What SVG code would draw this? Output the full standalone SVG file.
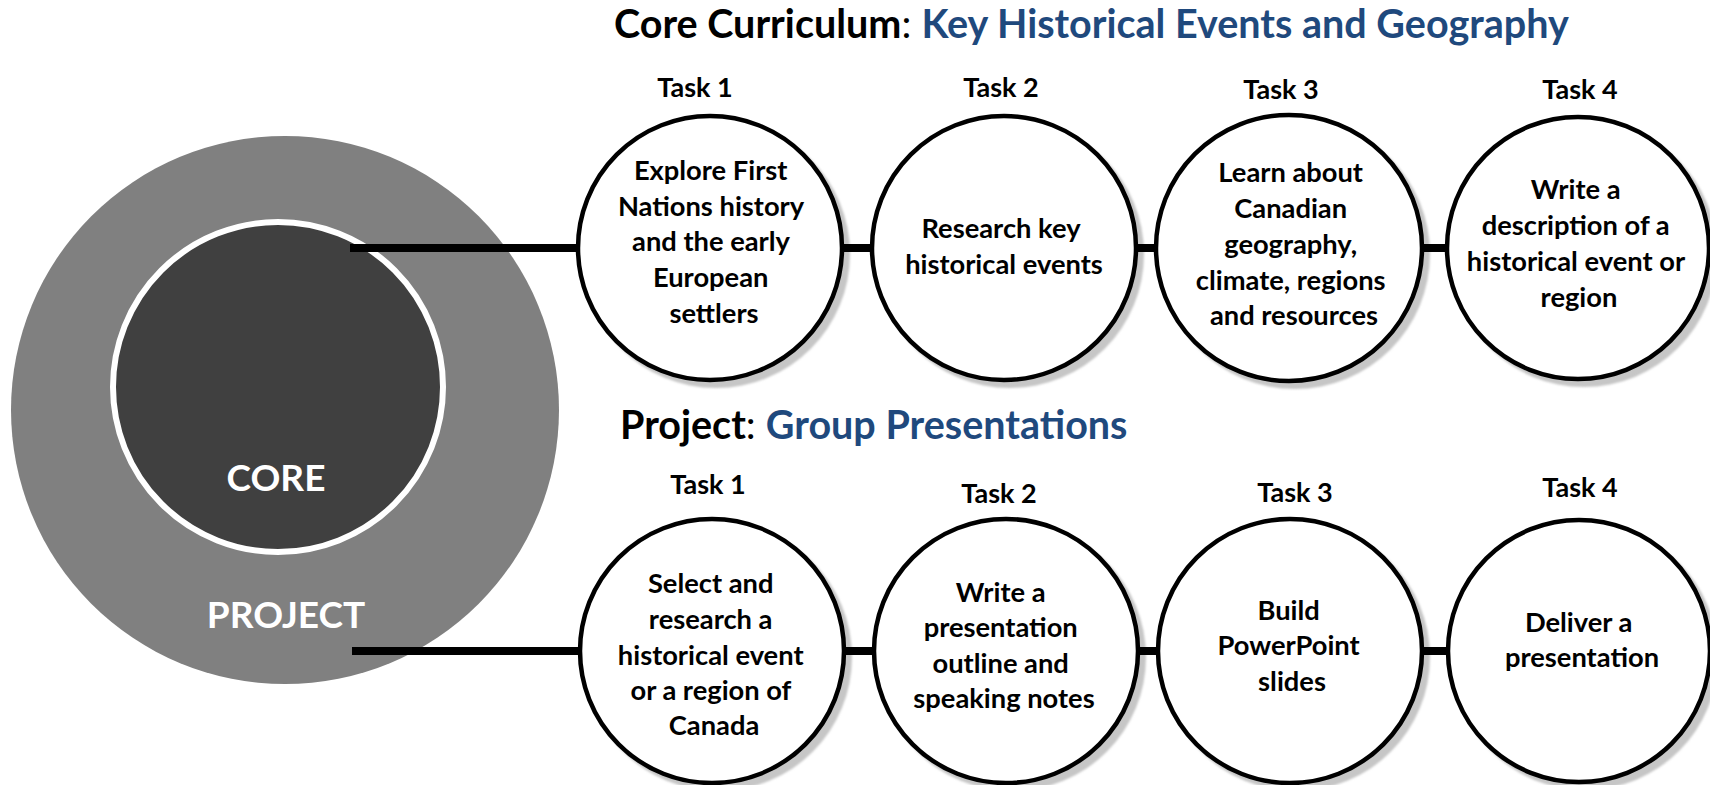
<svg xmlns="http://www.w3.org/2000/svg" width="1710" height="785" viewBox="0 0 1710 785">
  <style>
    .t { font-family: Lato, "Open Sans", "Liberation Sans", sans-serif; font-weight: 700; }
    .title { font-size: 39.5px; fill: #000; }
    .colon { font-weight: 400; }
    .blue { fill: #1F497D; }
    .task { font-size: 27px; fill: #000; text-anchor: middle; }
    .body { font-size: 27.3px; fill: #000; text-anchor: middle; }
    .ring { font-size: 37px; fill: #fff; text-anchor: middle; }
    .node { fill: #fff; stroke: #000; stroke-width: 4.5; }
    .shadow { fill: #c6c6c6; stroke: none; }
    .bar { stroke: #000; stroke-width: 8; fill: none; }
  </style>
  <defs>
    <filter id="soft" x="-10%" y="-10%" width="120%" height="120%">
      <feGaussianBlur stdDeviation="0.8"/>
    </filter>
  </defs>

  <rect width="1710" height="785" fill="#fff"/>

  <!-- Headings -->
  <text class="t title" x="614" y="38">Core Curriculum<tspan class="colon">: </tspan><tspan class="blue">Key Historical Events and Geography</tspan></text>
  <text class="t title" x="620" y="439">Project<tspan class="colon">: </tspan><tspan class="blue">Group Presentations</tspan></text>

  <!-- Concentric core / project rings -->
  <g id="project-ring">
    <circle cx="285" cy="410" r="274" fill="#808080"/>
    <text class="t ring" x="286" y="628">PROJECT</text>
  </g>
  <g id="core-ring">
    <circle cx="278" cy="387" r="165" fill="#404040" stroke="#fff" stroke-width="6"/>
    <text class="t ring" x="276" y="491">CORE</text>
  </g>

  <!-- Circle shadows -->
  <g id="shadows" filter="url(#soft)">
    <circle class="shadow" cx="716" cy="254" r="134"/>
    <circle class="shadow" cx="1010" cy="254" r="134"/>
    <circle class="shadow" cx="1295" cy="254" r="135"/>
    <circle class="shadow" cx="1584" cy="254" r="133"/>
    <circle class="shadow" cx="718" cy="657" r="134"/>
    <circle class="shadow" cx="1012" cy="657" r="134"/>
    <circle class="shadow" cx="1296" cy="657" r="134"/>
    <circle class="shadow" cx="1585" cy="657" r="133"/>
  </g>

  <!-- Connectors -->
  <g id="connectors">
    <line class="bar" x1="350" y1="248" x2="580" y2="248"/>
    <line class="bar" x1="840" y1="248" x2="874" y2="248"/>
    <line class="bar" x1="1134" y1="248" x2="1159" y2="248"/>
    <line class="bar" x1="1419" y1="248" x2="1449" y2="248"/>
    <line class="bar" x1="352" y1="651" x2="581" y2="651"/>
    <line class="bar" x1="842" y1="651" x2="876" y2="651"/>
    <line class="bar" x1="1136" y1="651" x2="1160" y2="651"/>
    <line class="bar" x1="1420" y1="651" x2="1450" y2="651"/>
  </g>

  <!-- Core curriculum tasks -->
  <g id="core-task-1">
    <text class="t task" x="695" y="97">Task 1</text>
    <circle class="node" cx="710" cy="248" r="132"/>
    <text class="t body">
      <tspan x="714" y="180">Explore First</tspan>
      <tspan x="714" y="216">Nations history</tspan>
      <tspan x="714" y="251">and the early</tspan>
      <tspan x="714" y="287">European</tspan>
      <tspan x="714" y="323">settlers</tspan>
    </text>
  </g>
  <g id="core-task-2">
    <text class="t task" x="1001" y="97">Task 2</text>
    <circle class="node" cx="1004" cy="248" r="132"/>
    <text class="t body">
      <tspan x="1004" y="238">Research key</tspan>
      <tspan x="1004" y="274">historical events</tspan>
    </text>
  </g>
  <g id="core-task-3">
    <text class="t task" x="1281" y="99">Task 3</text>
    <circle class="node" cx="1289" cy="248" r="133"/>
    <text class="t body">
      <tspan x="1294" y="182">Learn about</tspan>
      <tspan x="1294" y="218">Canadian</tspan>
      <tspan x="1294" y="254">geography,</tspan>
      <tspan x="1294" y="290">climate, regions</tspan>
      <tspan x="1294" y="325">and resources</tspan>
    </text>
  </g>
  <g id="core-task-4">
    <text class="t task" x="1580" y="99">Task 4</text>
    <circle class="node" cx="1578" cy="248" r="131"/>
    <text class="t body">
      <tspan x="1579" y="199">Write a</tspan>
      <tspan x="1579" y="235">description of a</tspan>
      <tspan x="1579" y="271">historical event or</tspan>
      <tspan x="1579" y="307">region</tspan>
    </text>
  </g>

  <!-- Project tasks -->
  <g id="project-task-1">
    <text class="t task" x="708" y="494">Task 1</text>
    <circle class="node" cx="712" cy="651" r="132"/>
    <text class="t body">
      <tspan x="714" y="593">Select and</tspan>
      <tspan x="714" y="629">research a</tspan>
      <tspan x="714" y="665">historical event</tspan>
      <tspan x="714" y="700">or a region of</tspan>
      <tspan x="714" y="735">Canada</tspan>
    </text>
  </g>
  <g id="project-task-2">
    <text class="t task" x="999" y="503">Task 2</text>
    <circle class="node" cx="1006" cy="651" r="132"/>
    <text class="t body">
      <tspan x="1004" y="602">Write a</tspan>
      <tspan x="1004" y="637">presentation</tspan>
      <tspan x="1004" y="673">outline and</tspan>
      <tspan x="1004" y="708">speaking notes</tspan>
    </text>
  </g>
  <g id="project-task-3">
    <text class="t task" x="1295" y="502">Task 3</text>
    <circle class="node" cx="1290" cy="651" r="132"/>
    <text class="t body">
      <tspan x="1292" y="620">Build</tspan>
      <tspan x="1292" y="655">PowerPoint</tspan>
      <tspan x="1292" y="691">slides</tspan>
    </text>
  </g>
  <g id="project-task-4">
    <text class="t task" x="1580" y="497">Task 4</text>
    <circle class="node" cx="1579" cy="651" r="131"/>
    <text class="t body">
      <tspan x="1582" y="632">Deliver a</tspan>
      <tspan x="1582" y="667">presentation</tspan>
    </text>
  </g>
</svg>
